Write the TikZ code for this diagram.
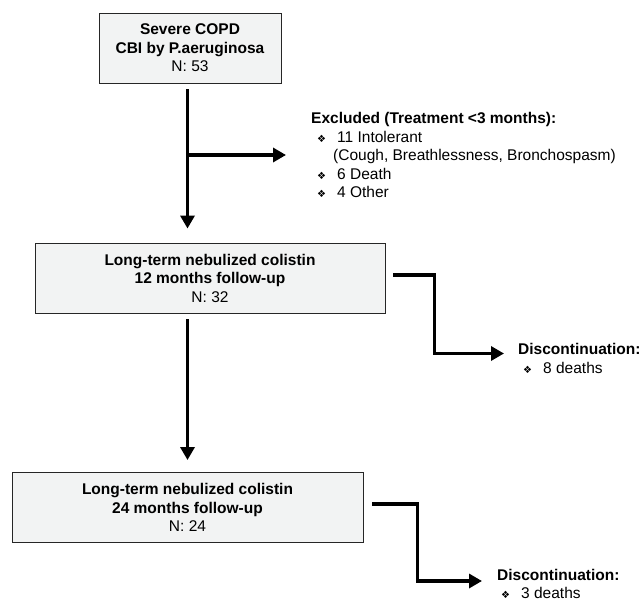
\documentclass[tikz,border=0pt]{standalone}
\usepackage{fontspec}
\setmainfont{Liberation Sans}
\newfontfamily\symfont{DejaVu Sans}
\usetikzlibrary{arrows.meta}

\definecolor{boxfill}{RGB}{242,243,243}
\newcommand{\bul}{\makebox[20pt][l]{\symfont\fontsize{10}{10}\selectfont ❖}}

\begin{document}
\begin{tikzpicture}[x=1pt, y=-1pt,
    every node/.style={font=\fontsize{15.5}{18.5}\selectfont},
    box/.style={draw=black!85, line width=0.9pt, fill=boxfill, align=center, minimum height=70pt, inner sep=0pt},
    note/.style={align=left, inner sep=0pt, anchor=west},
    flow/.style={line width=3.6pt, -{Triangle[length=13pt,width=14pt]}}]
    \useasboundingbox (0,0) rectangle (644,601);

    \node (copd) [box, minimum width=182pt] at (190,48) {\textbf{Severe COPD}\\\textbf{CBI by P.aeruginosa}\\N: 53};
    \node (month12) [box, minimum width=350pt] at (210,278) {\textbf{Long-term nebulized colistin}\\\textbf{12 months follow-up}\\N: 32};
    \node (month24) [box, minimum width=351pt] at (187.5,507.5) {\textbf{Long-term nebulized colistin}\\\textbf{24 months follow-up}\\N: 24};

    \node (excluded) [note] at (311,155) {\textbf{Excluded (Treatment <3 months):}\\
        \hspace*{6pt}\bul 11 Intolerant\\
        \hspace*{22pt}(Cough, Breathlessness, Bronchospasm)\\
        \hspace*{6pt}\bul 6 Death\\
        \hspace*{6pt}\bul 4 Other};
    \node (disc12) [note] at (518,358.5) {\textbf{Discontinuation:}\\\hspace*{5pt}\bul 8 deaths};
    \node (disc24) [note] at (497,584) {\textbf{Discontinuation:}\\\hspace*{4pt}\bul 3 deaths};

    % main line
    \draw [flow, shorten <=6pt, shorten >=14pt] (copd.south -| month24.north) -- (month12.north -| month24.north);
    \draw [flow, shorten >=25pt] (excluded.west -| month24.north) -- (excluded.west);
    \draw [flow, shorten <=6pt, shorten >=12pt] (month12.south -| month24.north) -- (month24.north);

    % drop-outs
    \draw [flow, shorten <=8pt, shorten >=14pt] ([yshift=3pt]month12.east) -- ++(49,0) |- ([yshift=5pt]disc12.west);
    \draw [flow, shorten <=9pt, shorten >=15pt] ([yshift=3.5pt]month24.east) -- ++(54,0) |- ([yshift=3pt]disc24.west);
\end{tikzpicture}
\end{document}
